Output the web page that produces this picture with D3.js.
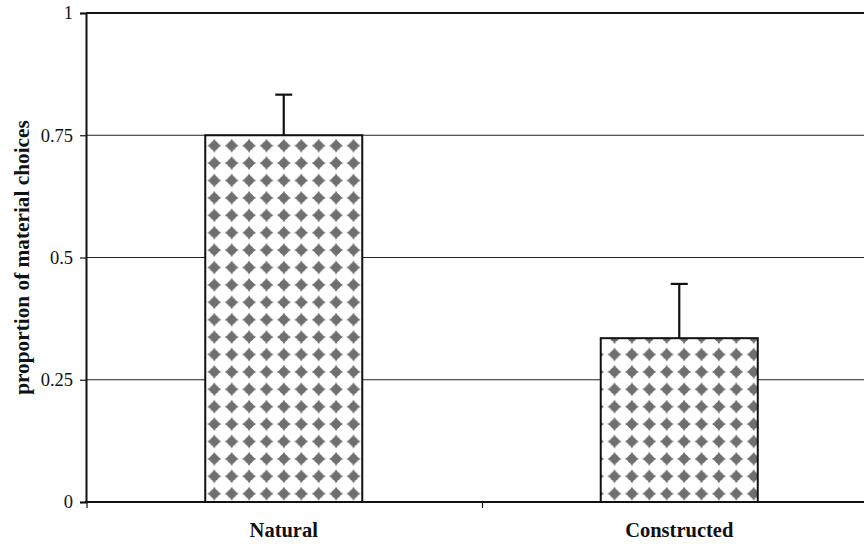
<!DOCTYPE html>
<html>
<head>
<meta charset="utf-8">
<script src="https://cdn.jsdelivr.net/npm/d3@7"></script>
<style>
  html, body { margin: 0; padding: 0; background: #fff; }
  svg { display: block; }
  text { font-family: "Liberation Serif", "Times New Roman", serif; fill: #111; }
</style>
</head>
<body>
<svg id="chart" width="864" height="544"></svg>
<script>
// Proportion of material choices by object type
const categories = ["Natural", "Constructed"];
const proportions = [0.75, 0.335];
const errorUpper = [0.083, 0.111];
const yTicks = [0, 0.25, 0.5, 0.75, 1];
const yTickLabels = ["0", "0.25", "0.5", "0.75", "1"];
const yTitle = "proportion of material choices";

const W = 864, H = 544;
const plot = { left: 86, right: 877, top: 13, bottom: 502 };

const svg = d3.select("#chart");

const x = d3.scaleBand().domain(categories).range([plot.left, plot.right]).padding(0);
const y = d3.scaleLinear().domain([0, 1]).range([plot.bottom, plot.top]);
const barW = x.bandwidth() * 0.397;

// Diamond-star fill pattern
const defs = svg.append("defs");
const tile = 17.4;
const pat = defs.append("pattern")
  .attr("id", "stars")
  .attr("patternUnits", "userSpaceOnUse")
  .attr("width", tile).attr("height", tile)
  .attr("x", -3.2).attr("y", -2.2);
pat.append("rect").attr("width", tile).attr("height", tile).attr("fill", "#fff");
const cx = tile / 2, cy = tile / 2;
const r1 = 7.0, r2 = 2.6;
pat.append("path")
  .attr("d", `M${cx},${cy - r1} L${cx + r2},${cy - r2} L${cx + r1},${cy} L${cx + r2},${cy + r2} L${cx},${cy + r1} L${cx - r2},${cy + r2} L${cx - r1},${cy} L${cx - r2},${cy - r2} Z`)
  .attr("fill", "#6f6f6f");
pat.append("circle").attr("cx", cx).attr("cy", cy).attr("r", 4.6).attr("fill", "#6f6f6f");

// Horizontal gridlines
svg.append("g").selectAll("line")
  .data(yTicks.filter(t => t > 0 && t < 1))
  .join("line")
  .attr("x1", plot.left).attr("x2", W)
  .attr("y1", d => y(d)).attr("y2", d => y(d))
  .attr("stroke", "#222").attr("stroke-width", 1.1);

// Top border of the plot area
svg.append("line")
  .attr("x1", plot.left).attr("x2", W)
  .attr("y1", y(1)).attr("y2", y(1))
  .attr("stroke", "#111").attr("stroke-width", 2.2);

// Bars
const data = categories.map((c, i) => ({ c, v: proportions[i], e: errorUpper[i] }));
svg.append("g").selectAll("rect")
  .data(data)
  .join("rect")
  .attr("x", d => x(d.c) + (x.bandwidth() - barW) / 2)
  .attr("y", d => y(d.v))
  .attr("width", barW)
  .attr("height", d => y(0) - y(d.v))
  .attr("fill", "url(#stars)")
  .attr("stroke", "#111").attr("stroke-width", 2);

// Upper error bars
const eb = svg.append("g").attr("stroke", "#111").attr("stroke-width", 2.2);
eb.selectAll("line.stem").data(data).join("line").attr("class", "stem")
  .attr("x1", d => x(d.c) + x.bandwidth() / 2).attr("x2", d => x(d.c) + x.bandwidth() / 2)
  .attr("y1", d => y(d.v)).attr("y2", d => y(d.v + d.e));
eb.selectAll("line.cap").data(data).join("line").attr("class", "cap")
  .attr("x1", d => x(d.c) + x.bandwidth() / 2 - 8.5).attr("x2", d => x(d.c) + x.bandwidth() / 2 + 8.5)
  .attr("y1", d => y(d.v + d.e)).attr("y2", d => y(d.v + d.e));

// Y axis
const yAxis = d3.axisLeft(y)
  .tickValues(yTicks)
  .tickFormat((d, i) => yTickLabels[i])
  .tickSize(6).tickPadding(7);
const gy = svg.append("g").attr("transform", `translate(${plot.left},0)`).call(yAxis);
gy.select(".domain").attr("stroke", "#111").attr("stroke-width", 2);
gy.selectAll(".tick line").attr("stroke", "#111").attr("stroke-width", 1.2);
gy.selectAll(".tick text")
  .style("font-family", '"Liberation Serif", "Times New Roman", serif')
  .style("font-size", "18.5px").attr("fill", "#111");

// X axis with ticks at category boundaries
svg.append("line")
  .attr("x1", plot.left - 1).attr("x2", W)
  .attr("y1", y(0)).attr("y2", y(0))
  .attr("stroke", "#111").attr("stroke-width", 2);
const bounds = categories.map(c => x(c)).concat([plot.right]);
svg.append("g").selectAll("line")
  .data(bounds)
  .join("line")
  .attr("x1", d => d + 1).attr("x2", d => d + 1)
  .attr("y1", y(0)).attr("y2", y(0) + 6)
  .attr("stroke", "#111").attr("stroke-width", 1.2);

svg.append("g").selectAll("text")
  .data(categories)
  .join("text")
  .attr("x", d => x(d) + x.bandwidth() / 2)
  .attr("y", 537)
  .attr("text-anchor", "middle")
  .style("font-size", "20.5px").style("font-weight", "bold")
  .text(d => d);

// Y axis title
svg.append("text")
  .attr("transform", `translate(29,${(plot.top + plot.bottom) / 2}) rotate(-90)`)
  .attr("text-anchor", "middle")
  .style("font-size", "21.3px").style("font-weight", "bold")
  .text(yTitle);
</script>
</body>
</html>
